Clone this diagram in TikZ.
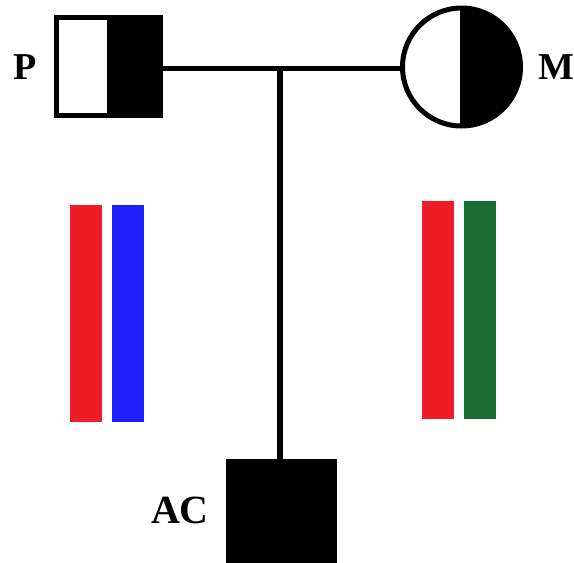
\documentclass[tikz,border=0pt]{standalone}
\usepackage{fontspec}
\setmainfont{Liberation Serif}
\definecolor{chrred}{HTML}{EE1C25}
\definecolor{chrblue}{HTML}{1F1FFF}
\definecolor{chrgreen}{HTML}{1A6E35}
\begin{document}
\begin{tikzpicture}[x=1pt,y=-1pt,
  male/.style={draw,line width=5pt,rectangle,minimum width=104pt,minimum height=98pt,inner sep=0pt},
  female/.style={draw,line width=5pt,circle,minimum size=118pt,inner sep=0pt},
  rightfill/.style={path picture={\fill[black] ([xshift=-2pt]path picture bounding box.north) rectangle (path picture bounding box.south east);}},
  affected/.style={draw,fill=black,rectangle,minimum width=110pt,minimum height=110pt,inner sep=0pt},
  tag/.style={font=\fontsize{38}{38}\selectfont\bfseries,inner sep=0pt},
  link/.style={line width=5pt},
  chrom/.style={rectangle,inner sep=0pt,minimum width=32pt}
]
\useasboundingbox (0,0) rectangle (574,563);
\clip (0,0) rectangle (574,563);

% parents
\node[male,rightfill] (P) at (108.5,66.5) {};
\node[female,rightfill] (M) at (461.5,67) {};
\node[tag] (Plab) at (25.5,67) {P};
\node[tag] (Mlab) at (556,67) {M};

% child
\node[affected] (AC) at (281,514) {};
\node[tag,font=\fontsize{40}{40}\selectfont\bfseries] (AClab) at (180,510) {AC};

% mating and descent lines
\coordinate (J) at (279.5,68);
\draw[link] (P.east |- J) -- (M.west |- J);
\draw[link,line width=6pt] (J) -- (J |- AC.north);

% chromosome pairs
\node[chrom,fill=chrred,minimum height=217pt] (pr) at (86,313.5) {};
\node[chrom,fill=chrblue,minimum height=217pt] (pb) at (127.5,313.5) {};
\node[chrom,fill=chrred,minimum height=218pt] (mr) at (438,310) {};
\node[chrom,fill=chrgreen,minimum height=218pt] (mg) at (479.5,310) {};
\end{tikzpicture}
\end{document}
